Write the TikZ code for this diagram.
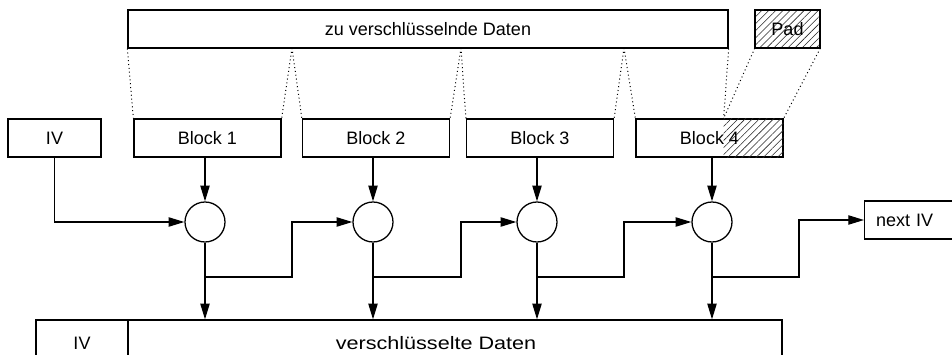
\documentclass[tikz,border=0pt]{standalone}
\usepackage{fontspec}
\setmainfont{Liberation Sans}
\usetikzlibrary{arrows.meta, positioning, calc, patterns.meta}
\tikzset{
	box/.style     ={rectangle, draw=black, line width=0.9pt, minimum height=26.6pt, inner sep=0pt},
	blockbox/.style={box, minimum width=102.9pt},
	xorc/.style    ={circle, draw=black, line width=0.9pt, minimum size=28pt, inner sep=0pt},
	flow/.style    ={-{Triangle[length=11pt, width=6.5pt]}, line width=0.9pt},
	split/.style   ={dotted, line width=0.7pt},
	hatch/.style   ={pattern={Lines[angle=45, distance=3.5pt, line width=0.4pt]}, pattern color=black!85},
}

\begin{document}
\begin{tikzpicture}[x=0.7pt, y=-0.7pt, font=\fontsize{12.6}{15}\selectfont]
	\clip (0,0) rectangle (952,355);
	% plaintext and padding
	\node[box, minimum width=420pt] (data) at (428,29) {zu verschlüsselnde Daten};
	\node[box, hatch, minimum width=45.5pt] (pad) at (787.5,29) {Pad};
	% IV and the four blocks
	\node[box, minimum width=65.1pt] (iv) at (54.5,138) {IV};
	\node[blockbox] (b1) at (207.5,138) {Block 1};
	\node[blockbox] (b2) at (376,138) {Block 2};
	\node[blockbox] (b3) at (540,138) {Block 3};
	\node[blockbox] (b4) at (709.5,138) {Block 4};
	\coordinate (padcut) at ($(b4.north east)+(-60,0)$);
	\fill[hatch] (padcut) rectangle (b4.south east);
	% dotted split lines
	\coordinate (cut1) at (292,48);
	\coordinate (cut2) at (461,48);
	\coordinate (cut3) at (624,48);
	\draw[split] (data.south west) -- (b1.north west);
	\draw[split] (cut1) -- (b1.north east);
	\draw[split] (cut1) -- (b2.north west);
	\draw[split] (cut2) -- (b2.north east);
	\draw[split] (cut2) -- (b3.north west);
	\draw[split] (cut3) -- (b3.north east);
	\draw[split] (cut3) -- (b4.north west);
	\draw[split] (data.south east) -- (padcut);
	\draw[split] (pad.south west) -- (padcut);
	\draw[split] (pad.south east) -- (b4.north east);
	% xor stages
	\node[xorc] (x1) at (205,222) {};
	\node[xorc] (x2) at (373,222) {};
	\node[xorc] (x3) at (537,222) {};
	\node[xorc] (x4) at (712,222) {};
	\node[box, anchor=west, text width=56pt, align=left, inner xsep=8pt] (niv) at (864,220) {next IV};
	% ciphertext
	\node[box, minimum width=64.4pt, minimum height=32.2pt] (civ) at (82,343) {IV};
	\node[box, minimum width=457.8pt, minimum height=32.2pt] (ct) at (455,343) {};
	\node (ctlabel) at (436,343) {\scalebox{1.2}[1]{verschlüsselte Daten}};
	% connections
	\draw[flow] (iv.south) |- (x1.west);
	\foreach \i in {1,...,4} {
		\draw[flow] (x\i |- b\i.south) -- (x\i.north);
		\draw[flow] (x\i.south) -- (x\i |- ct.north);
	}
	\coordinate (t1) at (292,277);
	\coordinate (t2) at (461,277);
	\coordinate (t3) at (624,277);
	\coordinate (t4) at (799,277);
	\foreach \i/\j in {1/2, 2/3, 3/4}
		\draw[flow] (x\i |- t\i) -- (t\i) |- (x\j.west);
	\draw[flow] (x4 |- t4) -- (t4) |- (niv.west);
\end{tikzpicture}
\end{document}
